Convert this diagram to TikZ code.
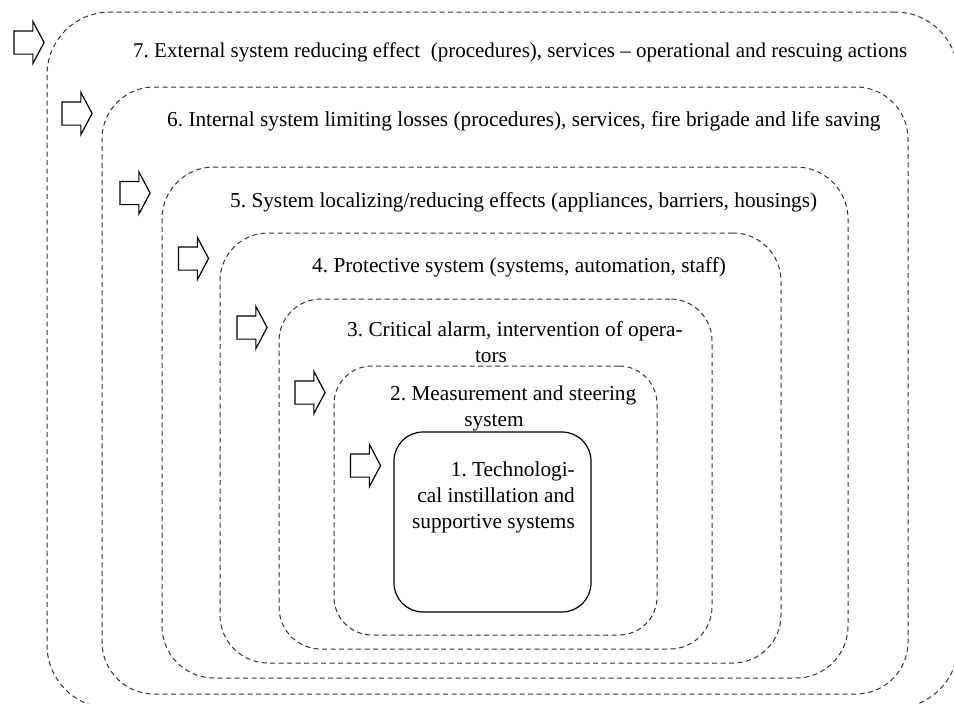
\documentclass[tikz,border=0pt]{standalone}
\usepackage{fontspec}
\setmainfont{Liberation Serif}
\usetikzlibrary{shapes.arrows}
\begin{document}
\frenchspacing
\begin{tikzpicture}[x=1pt,y=-1pt,
  layer/.style={draw=black!80, line width=1pt, dash pattern=on 5pt off 3.5pt, rectangle, inner sep=0pt},
  core/.style={draw=black, line width=1.2pt, rectangle, inner sep=0pt, rounded corners=29pt},
  inarrow/.style={draw=black, line width=1.2pt, shape=single arrow, inner xsep=0pt, inner ysep=11pt,
    minimum height=30pt, single arrow head extend=9.5pt, single arrow tip angle=124, fill=white},
  lbl/.style={inner sep=0pt, anchor=base west, font=\fontsize{21.3}{26}\selectfont},
  lblc/.style={inner sep=0pt, anchor=base, font=\fontsize{21.3}{26}\selectfont},
  lblr/.style={inner sep=0pt, anchor=base east, font=\fontsize{21.3}{26}\selectfont}]
\useasboundingbox (0,0) rectangle (954,704);
\clip (0,0) rectangle (954,704);
\fill[white] (0,0) rectangle (954,704);
% layers
\node[layer, rounded corners=63pt, minimum width=911pt, minimum height=696pt] (L7) at (502.5,360) {};
\node[layer, rounded corners=52pt, minimum width=806pt, minimum height=607pt] (L6) at (505,390.5) {};
\node[layer, rounded corners=52pt, minimum width=686pt, minimum height=511pt] (L5) at (505,422.5) {};
\node[layer, rounded corners=48pt, minimum width=561pt, minimum height=430pt] (L4) at (500.5,448) {};
\node[layer, rounded corners=42pt, minimum width=433pt, minimum height=350pt] (L3) at (495.5,474) {};
\node[layer, rounded corners=38pt, minimum width=323pt, minimum height=269pt] (L2) at (495.5,500.5) {};
\node[core, minimum width=197pt, minimum height=180pt] (L1) at (492.5,522) {};
% arrows
\node[inarrow] (A7) at (26,42.5) {};
\node[inarrow] (A6) at (74,113.5) {};
\node[inarrow] (A5) at (132,193) {};
\node[inarrow] (A4) at (190.5,258.5) {};
\node[inarrow] (A3) at (249,327.5) {};
\node[inarrow] (A2) at (307,392.5) {};
\node[inarrow] (A1) at (362.5,465.5) {};
% labels
\node[lbl, font=\fontsize{21.0}{26}\selectfont] (t7) at (133,57) {7. External system reducing effect\hspace{0.5em}(procedures), services – operational and rescuing actions};
\node[lbl] (t6) at (167,126) {6. Internal system limiting losses (procedures), services, fire brigade and life saving};
\node[lbl] (t5) at (230,207) {5. System localizing/reducing effects (appliances, barriers, housings)};
\node[lbl] (t4) at (312,272) {4. Protective system (systems, automation, staff)};
\node[lbl] (t3a) at (347,336) {3. Critical alarm, intervention of opera-};
\node[lblc] (t3b) at (491,362) {tors};
\node[lbl] (t2a) at (390,400) {2. Measurement and steering};
\node[lblc] (t2b) at (494,426) {system};
\node[lblr] (t1a) at (575,476) {1. Technologi-};
\node[lblr] (t1b) at (575,502) {cal instillation and};
\node[lblr] (t1c) at (575,528) {supportive systems};
\end{tikzpicture}
\end{document}
